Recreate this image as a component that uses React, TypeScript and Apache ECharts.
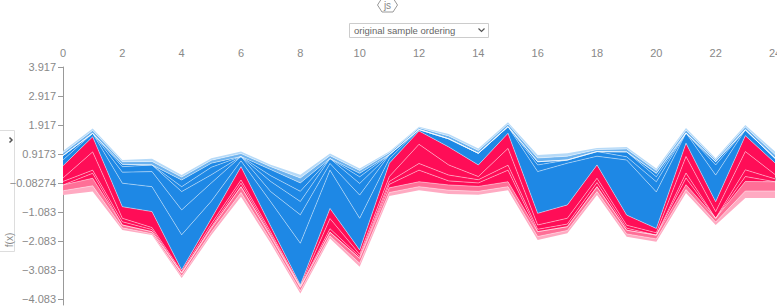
import React, { useEffect, useRef } from "react";
import * as echarts from "echarts";

// ---- data ----
const sampleIdx = [0, 1, 2, 3, 4, 5, 6, 7, 8, 9, 10, 11, 12, 13, 14, 15, 16, 17, 18, 19, 20, 21, 22, 23, 24];
// model output f(x) per sample (boundary between red and blue)
const fx = [0.51, 1.51, -0.9, -1.07, -3.08, -1.31, 0.48, -1.57, -3.6, -0.96, -2.39, 0.6, 1.71, 1.16, 0.54, 1.63, -1.13, -0.84, 0.54, -1.19, -1.65, 1.29, -0.73, 1.55, 0.61];
// positive (red) feature effects, r1 closest to f(x)
const r1 = [0.42, 0.52, 0.4, 0.55, 0.06, 0.18, 0.46, 0.2, 0.04, 0.35, 0.15, 0.46, 0.46, 0.62, 0.4, 0.52, 0.4, 0.46, 0.46, 0.35, 0.15, 0.46, 0.34, 0.55, 0.4];
const r2 = [0.12, 0.63, 0.12, 0.07, 0.05, 0.1, 0.11, 0.08, 0.02, 0.35, 0.08, 0.17, 0.66, 0.35, 0.11, 0.58, 0.15, 0.2, 0.15, 0.1, 0.08, 0.57, 0.23, 0.63, 0.15];
const r3 = [0.12, 0.11, 0.11, 0.07, 0, 0.05, 0.12, 0.06, 0.02, 0.12, 0.06, 0.1, 0.23, 0.2, 0.11, 0.17, 0.08, 0.09, 0.14, 0.07, 0, 0.17, 0, 0.23, 0.1];
const r4 = [0, 0.17, 0, 0, 0, 0, 0, 0, 0, 0, 0, 0.12, 0.4, 0.14, 0.12, 0.4, 0, 0, 0, 0, 0, 0.23, 0, 0.17, 0];
const p1 = [0.2, 0.26, 0.1, 0.07, 0.1, 0.14, 0.2, 0.14, 0.12, 0.13, 0.17, 0.16, 0.17, 0.18, 0.17, 0.17, 0.17, 0.13, 0.17, 0.13, 0.13, 0.17, 0.13, 0.33, 0.32];
const p2 = [0.15, 0.2, 0.07, 0.05, 0.07, 0.1, 0.15, 0.11, 0.09, 0.09, 0.12, 0.12, 0.12, 0.13, 0.12, 0.12, 0.12, 0.1, 0.12, 0.1, 0.1, 0.12, 0.1, 0.24, 0.24];
// negative (blue) feature effects, b1 closest to f(x)
const b1 = [0.2, 0.12, 0.81, 0.86, 1.21, 0.6, 0.2, 0.84, 1.44, 1.32, 1.09, 0.15, 0.05, 0.28, 0.4, 0.23, 1.44, 1.44, 0.3, 1.9, 1.26, 0.35, 0.92, 0.2, 0.16];
const b2 = [0.15, 0, 0.38, 0.52, 0.86, 0.63, 0.15, 0.35, 0.98, 0.23, 0.8, 0.14, 0, 0, 0, 0, 0.23, 0.11, 0.16, 0.11, 0.35, 0, 0.35, 0, 0];
const b3 = [0, 0, 0.19, 0.23, 0.63, 0.28, 0, 0.35, 0.46, 0.17, 0.4, 0, 0, 0, 0, 0, 0.11, 0, 0, 0.17, 0.17, 0, 0.11, 0, 0];
const b4 = [0, 0, 0.08, 0, 0.17, 0.26, 0, 0.2, 0.35, 0, 0.23, 0, 0, 0, 0, 0, 0, 0, 0, 0, 0.12, 0, 0, 0, 0];
const b5 = [0, 0, 0, 0, 0.23, 0.14, 0, 0.21, 0.29, 0, 0.12, 0, 0, 0, 0, 0, 0, 0, 0, 0, 0, 0, 0, 0, 0];
const l1 = [0.09, 0.1, 0.09, 0.12, 0.1, 0.1, 0.1, 0.1, 0.17, 0.1, 0.1, 0.07, 0.06, 0.1, 0.1, 0.09, 0.13, 0.13, 0.07, 0.1, 0.1, 0.1, 0.07, 0.1, 0.13];
const l2 = [0.07, 0.07, 0.06, 0.09, 0.07, 0.07, 0.07, 0.07, 0.11, 0.07, 0.07, 0.04, 0.04, 0.07, 0.07, 0.06, 0.1, 0.1, 0.05, 0.07, 0.07, 0.07, 0.05, 0.07, 0.1];

const yTickValues = [3.917, 2.917, 1.917, 0.9173, -0.08274, -1.083, -2.083, -3.083, -4.083];
const yTickLabels = ["3.917", "2.917", "1.917", "0.9173", "\u22120.08274", "\u22121.083", "\u22122.083", "\u22123.083", "\u22124.083"];
const selectLabel = "original sample ordering";
const yAxisName = "f(x)";

const FONT = 'Arial, "Liberation Sans", sans-serif';

export default function App() {
  const ref = useRef<HTMLDivElement>(null);
  useEffect(() => {
    if (!ref.current) return;
    const chart = echarts.init(ref.current, null, { renderer: "svg" });

    const bottom = sampleIdx.map((_, i) => fx[i] - r1[i] - r2[i] - r3[i] - r4[i] - p1[i] - p2[i]);
    const seam = { color: "rgba(255,255,255,0.55)", width: 0.8 };
    const band = (name: string, arr: number[], color: string, line = true) => ({
      name,
      type: "line",
      stack: "s",
      stackStrategy: "all",
      symbol: "none",
      data: arr,
      lineStyle: line ? seam : { width: 0, opacity: 0 },
      areaStyle: { color, opacity: 1 },
      silent: true,
    });

    const series: any[] = [
      {
        name: "base",
        type: "line",
        stack: "s",
        stackStrategy: "all",
        symbol: "none",
        data: bottom,
        lineStyle: { width: 0, opacity: 0 },
        silent: true,
      },
      band("p2", p2, "#ffaac2"),
      band("p1", p1, "#ff6f97"),
      band("r4", r4, "#ff0d57"),
      band("r3", r3, "#ff0d57"),
      band("r2", r2, "#ff0d57"),
      band("r1", r1, "#ff0d57"),
      band("b1", b1, "#1e88e5"),
      band("b2", b2, "#1e88e5"),
      band("b3", b3, "#1e88e5"),
      band("b4", b4, "#1e88e5"),
      band("b5", b5, "#1e88e5"),
      band("l1", l1, "#6cb2ee"),
      band("l2", l2, "#b6daf8", false),
    ];

    const option: any = {
      animation: false,
      grid: { left: 63, right: 2, top: 67, bottom: 2, containLabel: false, outerBoundsMode: "none" },
      xAxis: {
        type: "category",
        data: sampleIdx.map(String),
        boundaryGap: false,
        position: "top",
        offset: 5,
        axisLine: { show: false },
        axisTick: { show: true, length: 3, interval: 1, lineStyle: { color: "#bbb" } },
        axisLabel: { color: "#888", fontSize: 11, margin: 4, interval: 1, fontFamily: FONT },
        splitLine: { show: false },
      },
      yAxis: {
        type: "value",
        min: -4.29,
        max: 3.917,
        axisLine: { show: true, lineStyle: { color: "#999", width: 1 } },
        axisTick: { show: true, length: 5, customValues: yTickValues, lineStyle: { color: "#999" } },
        axisLabel: {
          show: true,
          customValues: yTickValues,
          color: "#888",
          fontSize: 11,
          margin: 7,
          fontFamily: FONT,
          formatter: (v: number) => {
            const k = yTickValues.findIndex((t) => Math.abs(t - v) < 1e-6);
            return k >= 0 ? yTickLabels[k] : "";
          },
        },
        splitLine: { show: false },
      },
      series,
      graphic: [
        {
          type: "polygon",
          shape: { points: [[382, -2], [393, -2], [397.5, 5], [393, 12], [382, 12], [377.5, 5]] },
          style: { fill: "#fff", stroke: "#999", lineWidth: 1 },
        },
        {
          type: "text",
          x: 387.5,
          y: 5,
          style: { text: "js", fill: "#888", font: `10px ${FONT}`, align: "center", verticalAlign: "middle" },
        },
        {
          type: "rect",
          shape: { x: 349.5, y: 23.5, width: 139, height: 14 },
          style: { fill: "#fff", stroke: "#ccc", lineWidth: 1 },
        },
        {
          type: "text",
          x: 354,
          y: 30.5,
          style: { text: selectLabel, fill: "#666", font: `9.5px ${FONT}`, verticalAlign: "middle" },
        },
        {
          type: "polyline",
          shape: { points: [[478.5, 28.5], [481.5, 31.5], [484.5, 28.5]] },
          style: { stroke: "#555", lineWidth: 1.2, fill: null },
        },
        {
          type: "rect",
          shape: { x: -1, y: 130.5, width: 15.5, height: 121 },
          style: { fill: "none", stroke: "#ddd", lineWidth: 1 },
        },
        {
          type: "polyline",
          shape: { points: [[9.5, 137.5], [12, 140], [9.5, 142.5]] },
          style: { stroke: "#555", lineWidth: 1.5, fill: null },
        },
        {
          type: "text",
          x: 9,
          y: 240,
          rotation: Math.PI / 2,
          style: { text: yAxisName, fill: "#888", font: `10px ${FONT}`, align: "center", verticalAlign: "middle" },
        },
      ],
    };
    chart.setOption(option);
    return () => chart.dispose();
  }, []);

  return (
    <div
      ref={ref}
      style={{ position: "fixed", left: 0, top: 0, width: 777, height: 307, background: "#fff" }}
    />
  );
}
